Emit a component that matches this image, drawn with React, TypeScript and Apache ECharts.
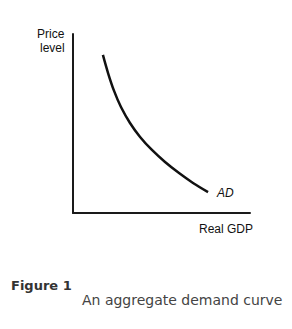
import React, { useEffect, useRef } from "react";
import * as echarts from "echarts";

const realGDP = [16.9, 19.8, 23.2, 27.1, 32.2, 37.9, 44.6, 52.0, 59.9, 67.8, 76.3];
const priceLevel = [88.3, 78.2, 68.2, 59.2, 50.3, 42.5, 35.2, 28.5, 22.3, 16.8, 11.7];
const curveName = "AD";
const xAxisTitle = "Real GDP";
const yAxisTitleTop = "Price";
const yAxisTitleBottom = "level";
const figureLabel = "Figure 1";
const figureCaption = "An aggregate demand curve";

export default function App() {
  const ref = useRef<HTMLDivElement>(null);
  useEffect(() => {
    if (!ref.current) return;
    const chart = echarts.init(ref.current, null, { renderer: "svg" });
    const data = realGDP.map((x, i) => [x, priceLevel[i]]);
    const labelFont = "12px 'Liberation Sans', Arial, sans-serif";
    chart.setOption({
      animation: false,
      backgroundColor: "#ffffff",
      grid: { left: 73, right: 42, top: 34, bottom: 116 },
      xAxis: {
        type: "value",
        min: 0,
        max: 100,
        axisLine: { show: true, lineStyle: { color: "#1a1a1a", width: 2 } },
        axisTick: { show: false },
        axisLabel: { show: false },
        splitLine: { show: false },
      },
      yAxis: {
        type: "value",
        min: 0,
        max: 100,
        axisLine: { show: true, lineStyle: { color: "#1a1a1a", width: 2 } },
        axisTick: { show: false },
        axisLabel: { show: false },
        splitLine: { show: false },
      },
      series: [
        {
          type: "line",
          name: curveName,
          data,
          smooth: 0.35,
          symbol: "none",
          lineStyle: { color: "#111111", width: 2.5 },
          endLabel: {
            show: true,
            formatter: curveName,
            fontFamily: "Liberation Sans, Arial, sans-serif",
            fontStyle: "italic",
            fontSize: 12,
            color: "#111",
            offset: [1, 1],
          },
        },
      ],
      graphic: [
        {
          type: "text",
          left: 37,
          top: 28,
          style: { text: yAxisTitleTop, font: labelFont, fill: "#111" },
        },
        {
          type: "text",
          left: 40,
          top: 42,
          style: { text: yAxisTitleBottom, font: labelFont, fill: "#111" },
        },
        {
          type: "text",
          left: 199,
          top: 223,
          style: { text: xAxisTitle, font: labelFont, fill: "#111" },
        },
        {
          type: "text",
          left: 11,
          top: 279,
          style: {
            text: figureLabel,
            font: "bold 13px 'DejaVu Sans', Verdana, sans-serif",
            fill: "#333",
          },
        },
        {
          type: "text",
          left: 82,
          top: 293,
          style: {
            text: figureCaption,
            font: "14px 'DejaVu Sans', Verdana, sans-serif",
            fill: "#444",
          },
        },
      ],
    });
    return () => chart.dispose();
  }, []);
  return (
    <div
      ref={ref}
      style={{ position: "fixed", left: 0, top: 0, width: 292, height: 329 }}
    />
  );
}
